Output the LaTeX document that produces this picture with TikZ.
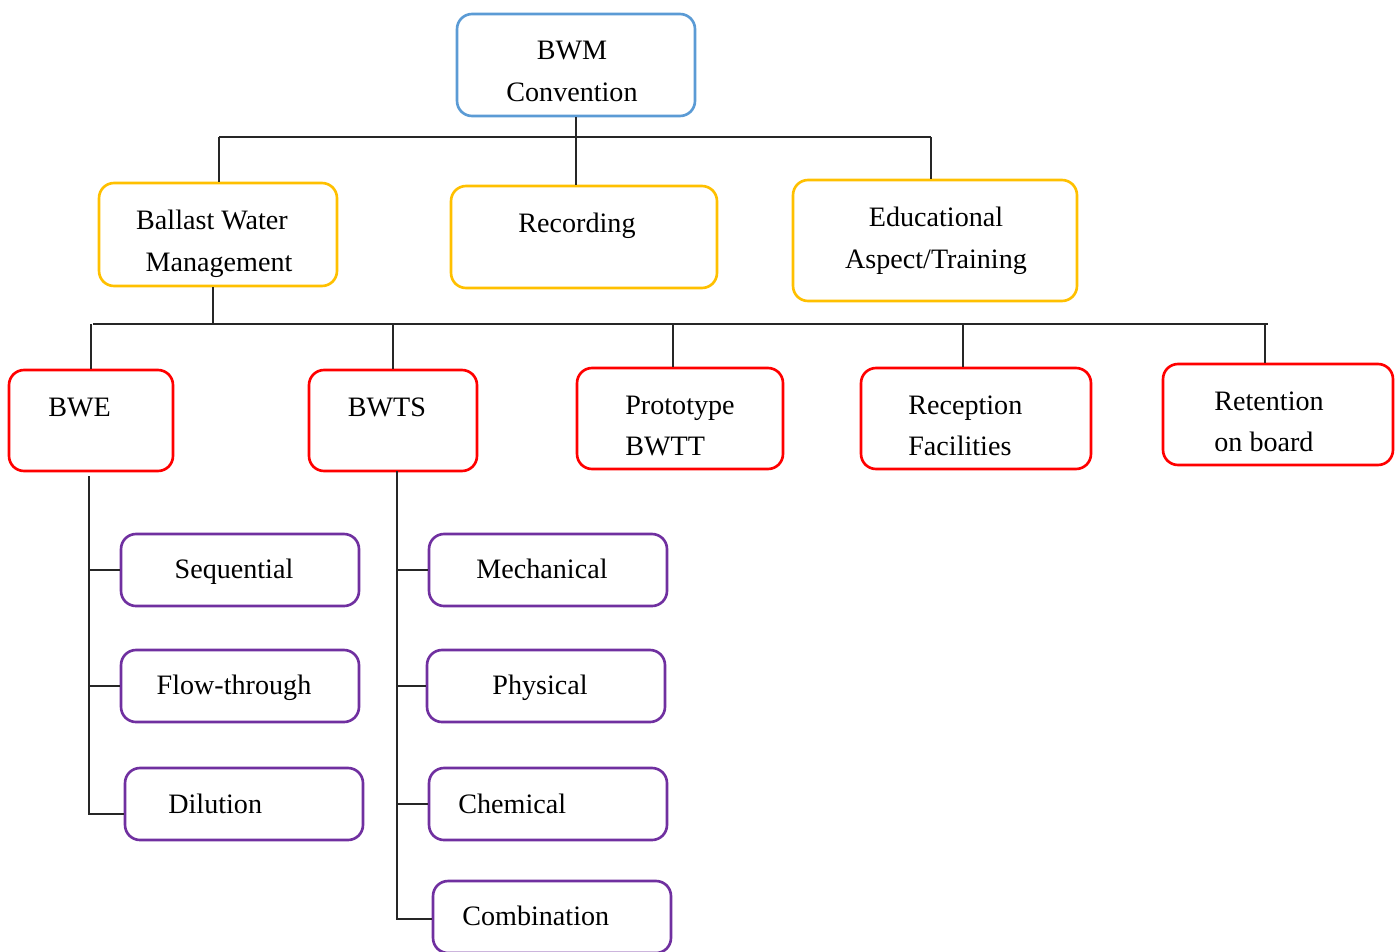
\documentclass[tikz,border=0pt]{standalone}
\usepackage{fontspec}
\setmainfont{Liberation Serif}
\definecolor{cblue}{HTML}{5B9BD5}
\definecolor{cyel}{HTML}{FFC000}
\definecolor{cred}{HTML}{FF0000}
\definecolor{cpur}{HTML}{7030A0}
\definecolor{cline}{HTML}{262626}
\tikzset{
  box/.style={draw=#1, line width=1.5pt, rounded corners=0.3cm, inner sep=0pt, fill=white},
  big/.style={minimum height=2.02cm},
  small/.style={minimum width=4.76cm, minimum height=1.44cm},
  txt/.style={font=\fontsize{16}{19}\selectfont, text height=10.6pt, text depth=0pt, inner sep=0pt},
  conn/.style={draw=cline, line width=0.6pt},
}
\begin{document}
\begin{tikzpicture}[x=0.02cm,y=-0.02cm]
\useasboundingbox (0,0) rectangle (1400,951);
\clip (0,0) rectangle (1400,951);
% level 0
\node[box=cblue, minimum width=4.76cm, minimum height=2.04cm] (bwm) at (576,65) {};
\node[txt] (tbwm1) at (572,50) {BWM};
\node[txt] (tbwm2) at (572,92) {Convention};
% level 1
\node[box=cyel, minimum width=4.76cm, minimum height=2.06cm] (mgmt) at (218,234.5) {};
\node[txt] (tmg1) at (212,220) {Ballast Water};
\node[txt] (tmg2) at (219,262) {Management};
\node[box=cyel, minimum width=5.32cm, minimum height=2.04cm] (rec) at (584,237) {};
\node[txt] (trec) at (577,223) {Recording};
\node[box=cyel, minimum width=5.68cm, minimum height=2.42cm] (edu) at (935,240.5) {};
\node[txt] (tedu1) at (936,217) {Educational};
\node[txt] (tedu2) at (936,259) {Aspect/Training};
% level 2
\node[box=cred, big, minimum width=3.28cm] (bwe) at (91,420.5) {};
\node[txt, anchor=west] (tbwe) at (48,407) {BWE};
\node[box=cred, big, minimum width=3.36cm] (bwts) at (393,420.5) {};
\node[txt] (tbwts) at (387,407) {BWTS};
\node[box=cred, big, minimum width=4.12cm] (proto) at (680,418.5) {};
\node[txt, anchor=west] (tpr1) at (625,405) {Prototype};
\node[txt, anchor=west] (tpr2) at (625,446) {BWTT};
\node[box=cred, big, minimum width=4.6cm] (recep) at (976,418.5) {};
\node[txt, anchor=west] (trc1) at (908,405) {Reception};
\node[txt, anchor=west] (trc2) at (908,446) {Facilities};
\node[box=cred, big, minimum width=4.6cm] (ret) at (1278,414.5) {};
\node[txt, anchor=west] (trt1) at (1214,401) {Retention};
\node[txt, anchor=west] (trt2) at (1214,442) {on board};
% level 3
\node[box=cpur, small] (seq) at (240,570) {};
\node[txt] (tseq) at (234,569) {Sequential};
\node[box=cpur, small] (flow) at (240,686) {};
\node[txt] (tflow) at (234,685) {Flow-through};
\node[box=cpur, small] (dil) at (244,804) {};
\node[txt, anchor=west] (tdil) at (168,804) {Dilution};
\node[box=cpur, small] (mech) at (548,570) {};
\node[txt] (tmech) at (542,569) {Mechanical};
\node[box=cpur, small] (phys) at (546,686) {};
\node[txt] (tphys) at (540,685) {Physical};
\node[box=cpur, small] (chem) at (548,804) {};
\node[txt, anchor=west] (tchem) at (458,804) {Chemical};
\node[box=cpur, small] (comb) at (552,917) {};
\node[txt, anchor=west] (tcomb) at (462,916) {Combination};
% connectors level 0-1
\coordinate (hL) at (219,137);
\coordinate (hR) at (931,137);
\draw[conn] (hL) -- (hR);
\draw[conn] (bwm.south) -- (bwm.south |- rec.north);
\draw[conn] (hL) -- (hL |- mgmt.north);
\draw[conn] (hR) -- (hR |- edu.north);
% connectors level 1-2
\coordinate (gL) at (93,324);
\coordinate (gR) at (1268,324);
\coordinate (gM) at (213,324);
\coordinate (g1) at (91,324);
\coordinate (g2) at (393,324);
\coordinate (g3) at (673,324);
\coordinate (g4) at (963,324);
\coordinate (g5) at (1265,324);
\draw[conn] (gL) -- (gR);
\draw[conn] (gM) -- (gM |- mgmt.south);
\draw[conn] (g1) -- (g1 |- bwe.north);
\draw[conn] (g2) -- (g2 |- bwts.north);
\draw[conn] (g3) -- (g3 |- proto.north);
\draw[conn] (g4) -- (g4 |- recep.north);
\draw[conn] (g5) -- (g5 |- ret.north);
% BWE subtree
\coordinate (b0) at (89,476);
\coordinate (b1) at (89,814);
\draw[conn] (b0) -- (b1) -- (b1 -| dil.west);
\draw[conn] (b0 |- seq.west) -- (seq.west);
\draw[conn] (b0 |- flow.west) -- (flow.west);
% BWTS subtree
\coordinate (w0) at (397,471);
\coordinate (w1) at (397,919);
\draw[conn] (w0) -- (w1) -- (w1 -| comb.west);
\draw[conn] (w0 |- mech.west) -- (mech.west);
\draw[conn] (w0 |- phys.west) -- (phys.west);
\draw[conn] (w0 |- chem.west) -- (chem.west);
\end{tikzpicture}
\end{document}
